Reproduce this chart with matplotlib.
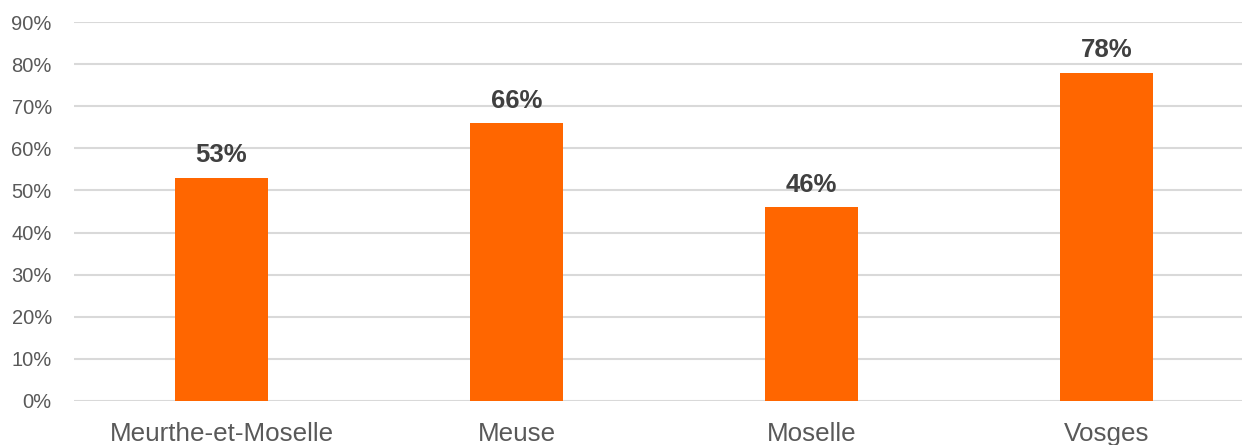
import matplotlib.pyplot as plt
from matplotlib.ticker import PercentFormatter

plt.rcParams['font.family'] = ['Liberation Sans', 'DejaVu Sans']

# Data
departements = ['Meurthe-et-Moselle', 'Meuse', 'Moselle', 'Vosges']
taux = [53, 66, 46, 78]
yticks = [0, 10, 20, 30, 40, 50, 60, 70, 80, 90]

fig = plt.figure(figsize=(12.42, 4.45), dpi=100)
ax = fig.add_axes([74 / 1242, 44 / 445, 1180 / 1242, 379 / 445])

x = range(len(departements))
bars = ax.bar(x, taux, width=0.315, color='#FF6600', zorder=3)

for b, v in zip(bars, taux):
    ax.annotate(f'{v}%', (b.get_x() + b.get_width() / 2, v),
                xytext=(0, 7.5), textcoords='offset points',
                ha='center', va='bottom', fontsize=18.5, fontweight='bold',
                color='#404040')

ax.set_xlim(-0.5, len(departements) - 0.5)
ax.set_ylim(0, 90)
ax.set_yticks(yticks)
ax.yaxis.set_major_formatter(PercentFormatter(decimals=0))
ax.set_xticks(list(x))
ax.set_xticklabels(departements)

ax.tick_params(axis='y', length=0, pad=16, labelsize=14.5, labelcolor='#595959')
ax.tick_params(axis='x', length=0, pad=15, labelsize=18.7, labelcolor='#595959')

ax.grid(axis='y', color='#D9D9D9', linewidth=1.5, zorder=0)
for s in ax.spines.values():
    s.set_visible(False)

plt.savefig('out.png', dpi=100)
